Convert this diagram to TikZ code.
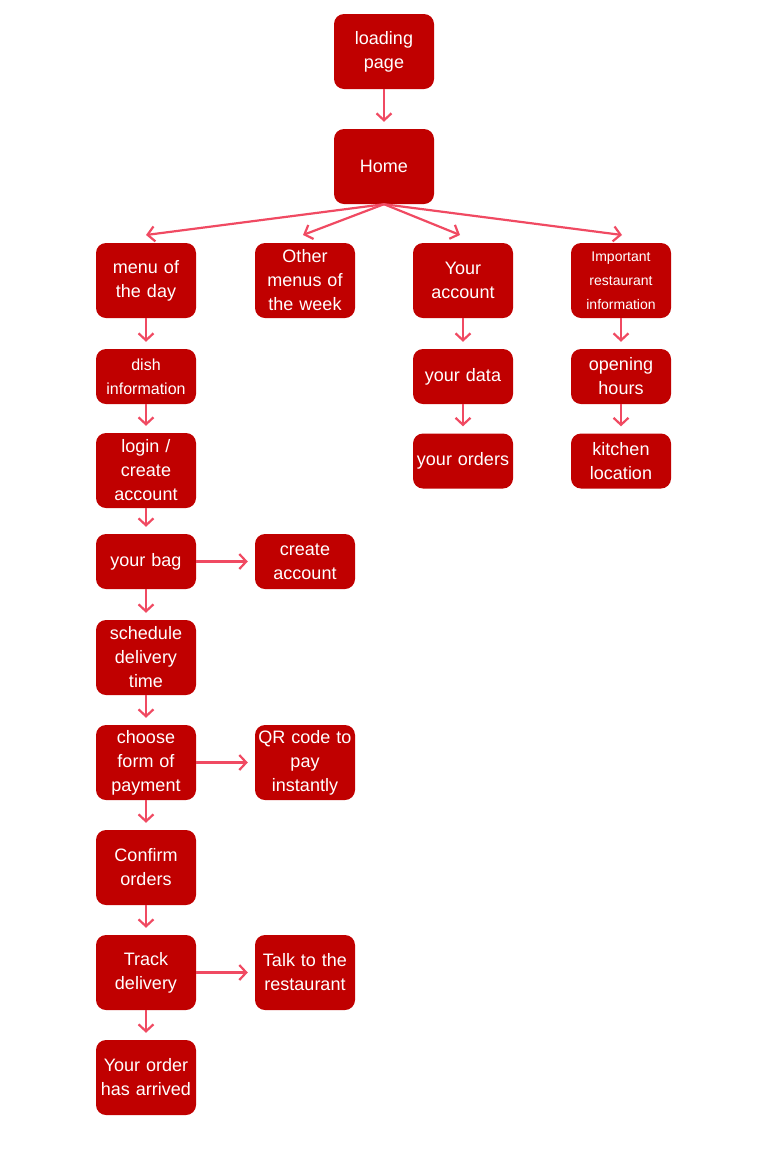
\documentclass[tikz,border=0pt]{standalone}
\usepackage{fontspec}
\setmainfont{Liberation Sans}
\usetikzlibrary{arrows.meta}
\definecolor{boxred}{HTML}{C00000}
\definecolor{arrred}{HTML}{F04A62}
\tikzset{
  box/.style={draw=none, fill=boxred, rounded corners=10pt, text=white,
    minimum width=100pt, minimum height=75pt, inner sep=0pt,
    text width=100pt, align=center, font=\fontsize{18}{24}\selectfont},
  shortbox/.style={box, minimum height=55pt},
  conn/.style={draw=arrred, line width=2.2pt,
    -{Straight Barb[length=7pt,width=15pt,line width=2.2pt]}, shorten >=7pt},
}
\begin{document}
\begin{tikzpicture}[x=1pt,y=-1pt]
\useasboundingbox (0,0) rectangle (768,1152);
\node[box] (load) at (384,51.5) {loading\\page};
\node[box] (home) at (384,166.5) {Home};
\node[box] (menu) at (146,280.5) {menu of\\the day};
\node[box] (other) at (305,280.5) {Other\\menus of\\the week};
\node[box] (acct) at (463,280.5) {Your\\account};
\node[box, font=\fontsize{14}{24}\selectfont] (info) at (621,280.5) {Important\\restaurant\\information};
\node[shortbox, font=\fontsize{16}{24}\selectfont] (dish) at (146,376.5) {dish\\information};
\node[box] (login) at (146,470.5) {login /\\create\\account};
\node[shortbox] (bag) at (146,561.5) {your bag};
\node[shortbox] (create) at (305,561.5) {create\\account};
\node[box] (sched) at (146,657.5) {schedule\\delivery\\time};
\node[box] (pay) at (146,762.5) {choose\\form of\\payment};
\node[box] (qr) at (305,762.5) {QR code to\\pay\\instantly};
\node[box] (confirm) at (146,867.5) {Confirm\\orders};
\node[box] (track) at (146,972.5) {Track\\delivery};
\node[box] (talk) at (305,972.5) {Talk to the\\restaurant};
\node[box] (arrived) at (146,1077.5) {Your order\\has arrived};
\node[shortbox] (data) at (463,376.5) {your data};
\node[shortbox] (orders) at (463,461) {your orders};
\node[shortbox] (hours) at (621,376.5) {opening\\hours};
\node[shortbox] (kitchen) at (621,461) {kitchen\\location};
% connectors
\draw[conn] (load) -- (home);
\coordinate (t1) at (146,243);
\coordinate (t2) at (303,243);
\coordinate (t3) at (460,243);
\coordinate (t4) at (622,243);
\foreach \t in {t1,t2,t3,t4}{
  \draw[conn, shorten >=0pt] (home.south) -- ([yshift=8pt]\t);
}
\draw[conn] (menu) -- (dish);
\draw[conn] (dish) -- (login);
\draw[conn] (login) -- (bag);
\draw[conn] (bag) -- (sched);
\draw[conn] (sched) -- (pay);
\draw[conn] (pay) -- (confirm);
\draw[conn] (confirm) -- (track);
\draw[conn] (track) -- (arrived);
\draw[conn] (bag) -- (create);
\draw[conn] (pay) -- (qr);
\draw[conn] (track) -- (talk);
\draw[conn] (acct) -- (data);
\draw[conn] (data) -- (orders);
\draw[conn] (info) -- (hours);
\draw[conn] (hours) -- (kitchen);
\end{tikzpicture}
\end{document}
